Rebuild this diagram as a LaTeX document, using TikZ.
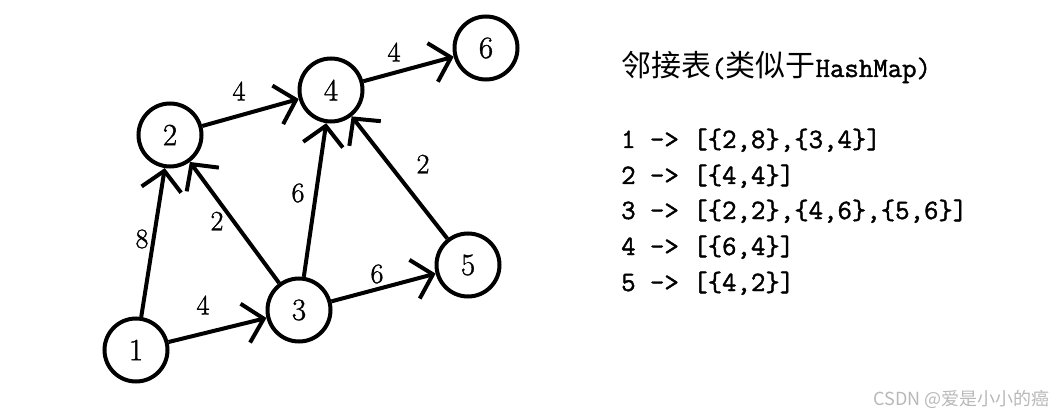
\documentclass[tikz,border=0pt]{standalone}
\usepackage{fontspec}
\usetikzlibrary{arrows.meta}
\newfontfamily\cjk{Noto Sans CJK SC}
\newfontfamily\labfont{Latin Modern Roman}[FakeBold=1.2]
\newfontfamily\listfont{Latin Modern Mono}[FakeBold=1.5]
\newcommand{\mymono}[1]{{\listfont\fontsize{28}{28}\selectfont #1}}
\begin{document}
\begin{tikzpicture}[x=1pt,y=-1pt,
  vertex/.style={circle,draw,line width=4pt,minimum size=63pt,inner sep=0pt,font=\labfont\fontsize{31}{31}\selectfont},
  arc/.style={line width=4pt,-{Straight Barb[length=19pt,width=40pt]}},
  wt/.style={inner sep=0pt,font=\labfont\fontsize{28}{28}\selectfont},
  row/.style={anchor=base west,inner sep=0pt}]
\useasboundingbox (0,0) rectangle (1054,414);
\node[vertex] (n1) at (136,350) {1};
\node[vertex] (n2) at (170,135) {2};
\node[vertex] (n3) at (299,310) {3};
\node[vertex] (n4) at (331,90) {4};
\node[vertex] (n5) at (468,265) {5};
\node[vertex] (n6) at (486,48) {6};
\draw[arc] (n1) -- (n2);
\draw[arc] (n1) -- (n3);
\draw[arc] (n2) -- (n4);
\draw[arc] (n3) -- (n2);
\draw[arc] (n3) -- (n4);
\draw[arc] (n3) -- (n5);
\draw[arc] (n5) -- (n4);
\draw[arc] (n4) -- (n6);
\node[wt] (w12) at (142,239) {8};
\node[wt] (w13) at (203,305) {4};
\node[wt] (w24) at (239,91) {4};
\node[wt] (w32) at (217,221) {2};
\node[wt] (w34) at (298,193) {6};
\node[wt] (w35) at (377,274) {6};
\node[wt] (w54) at (423,164) {2};
\node[wt] (w46) at (394,52) {4};
\node[row] (title) at (621,77) {{\cjk\fontsize{30}{30}\selectfont 邻接表}\mymono{(}{\cjk\fontsize{30}{30}\selectfont 类似于}\mymono{HashMap)}};
\node[row] (r1) at (621,148) {\mymono{1 -> [\{2,8\},\{3,4\}]}};
\node[row] (r2) at (621,184) {\mymono{2 -> [\{4,4\}]}};
\node[row] (r3) at (621,219) {\mymono{3 -> [\{2,2\},\{4,6\},\{5,6\}]}};
\node[row] (r4) at (621,255) {\mymono{4 -> [\{6,4\}]}};
\node[row] (r5) at (621,291) {\mymono{5 -> [\{4,2\}]}};
\node[anchor=base east,inner sep=0pt,text=black!28,font=\cjk\fontsize{18}{18}\selectfont] (wm) at (1050,405) {CSDN @爱是小小的癌};
\end{tikzpicture}
\end{document}
